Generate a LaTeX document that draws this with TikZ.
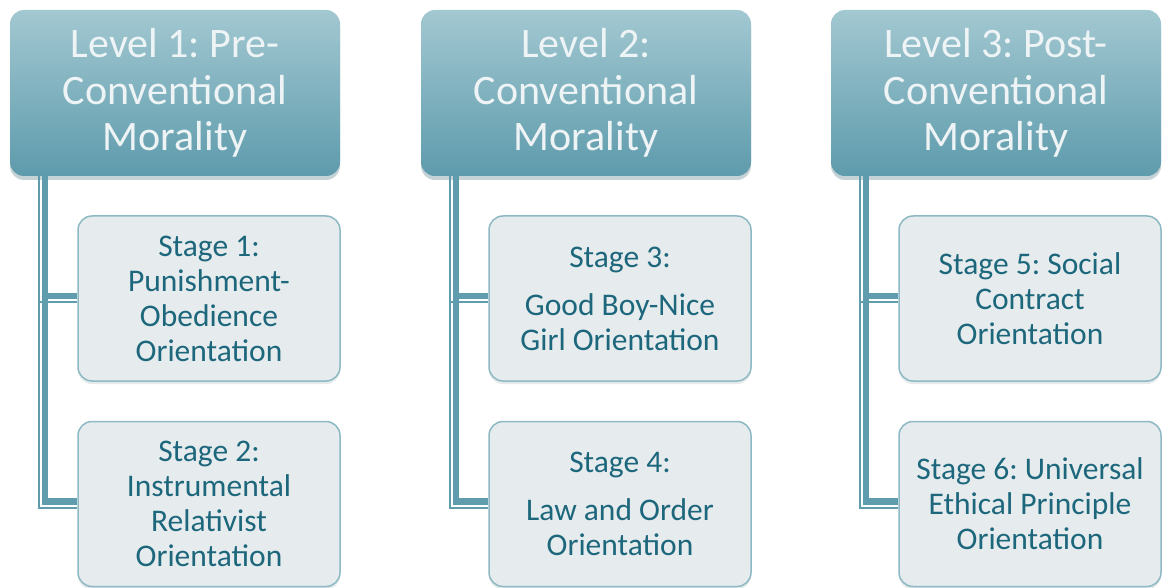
\documentclass[tikz,border=0pt]{standalone}
\usepackage{fontspec}
\setmainfont{Carlito}
\frenchspacing
\usetikzlibrary{shadows}
\definecolor{lvtop}{HTML}{A2C8D1}
\definecolor{lvbot}{HTML}{5E9BAC}
\definecolor{lvtext}{HTML}{EEF4F5}
\definecolor{stfill}{HTML}{E6EBED}
\definecolor{stedge}{HTML}{8DB9C5}
\definecolor{sttext}{HTML}{1D677C}
\definecolor{conn}{HTML}{5E9CAE}
\tikzset{
  levelbox/.style={rectangle, rounded corners=14pt, minimum width=330pt, minimum height=166pt,
    inner sep=0pt, top color=lvtop, bottom color=lvbot, draw=none, text=lvtext, align=center,
    font=\fontsize{42}{46.5}\selectfont,
    drop shadow={shadow xshift=0pt, shadow yshift=-4pt, opacity=0.3, fill=lvbot!70!black}},
  stagebox/.style={rectangle, rounded corners=14pt, minimum width=262pt, minimum height=165pt,
    inner sep=0pt, fill=stfill, draw=stedge, line width=1.5pt, text=sttext, align=center,
    font=\fontsize{31.5}{35}\selectfont,
    drop shadow={shadow xshift=0pt, shadow yshift=-3pt, opacity=0.15, fill=stedge!60!black}},
  thickconn/.style={draw=conn, line width=6.5pt},
  thinconn/.style={draw=conn, line width=2pt},
}
\begin{document}
\begin{tikzpicture}[x=1pt, y=-1pt]
\useasboundingbox (0,0) rectangle (1162,588);
% Level boxes
\node[levelbox] (L1) at (175,93) {Level 1: Pre-\\Conventional\\Morality};
\node[levelbox] (L2) at (586,93) {Level 2:\\Conventional\\Morality};
\node[levelbox] (L3) at (996,93) {Level 3: Post-\\Conventional\\Morality};
% coordinates for connectors
\foreach \i in {1,2,3}{
  \coordinate (v\i) at ([xshift=35pt]L\i.south west);
  \coordinate (w\i) at ([xshift=29pt]L\i.south west);
}
% Stage boxes
\node[stagebox] (S1) at (209,298.5) {Stage 1:\\Punishment-\\Obedience\\Orientation};
\node[stagebox] (S2) at (209,504) {Stage 2:\\Instrumental\\Relativist\\Orientation};
\node[stagebox] (S3) at (620,298.5) {Stage 3:\\[13pt]Good Boy-Nice\\Girl Orientation};
\node[stagebox] (S4) at (620,504) {Stage 4:\\[13pt]Law and Order\\Orientation};
\node[stagebox] (S5) at (1030,298.5) {Stage 5: Social\\Contract\\Orientation};
\node[stagebox] (S6) at (1030,504) {Stage 6: Universal\\Ethical Principle\\Orientation};
% connectors
\foreach \l/\a/\b in {1/S1/S2, 2/S3/S4, 3/S5/S6}{
  \coordinate (ha\l) at ([yshift=2.5pt]\a.west);
  \coordinate (hb\l) at ([yshift=2.5pt]\b.west);
  \coordinate (ka\l) at ([yshift=-3.5pt]\a.west);
  \coordinate (kb\l) at ([yshift=-3.5pt]\b.west);
  \draw[thinconn] (w\l) |- (kb\l);
  \draw[thinconn] (w\l |- ka\l) -- (ka\l);
  \draw[thickconn] (v\l) |- (hb\l);
  \draw[thickconn] (v\l |- ha\l) -- (ha\l);
}
\end{tikzpicture}
\end{document}
